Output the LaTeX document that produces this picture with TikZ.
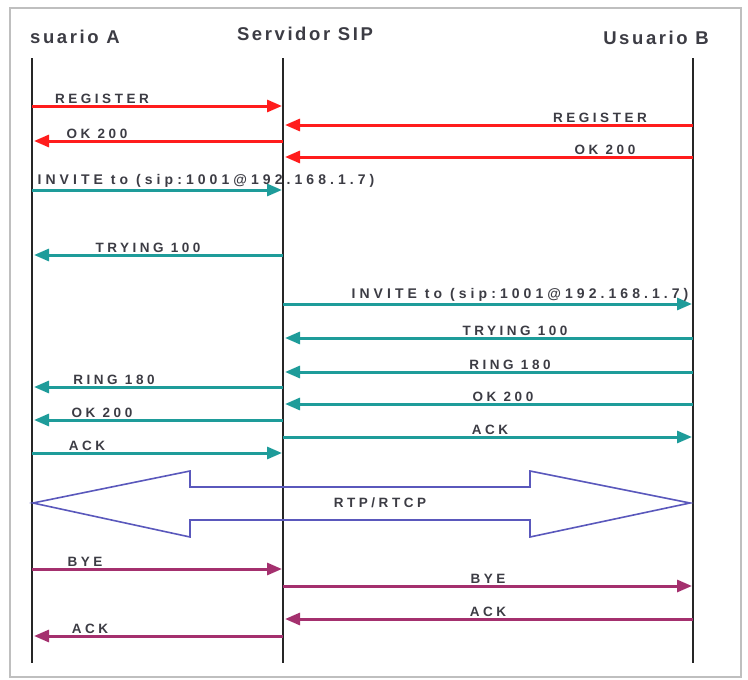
\documentclass[tikz,border=0pt]{standalone}
\usepackage{fontspec}
\setmainfont{Liberation Sans}
\usetikzlibrary{arrows.meta}
\definecolor{sipred}{HTML}{FF1C1C}
\definecolor{sipteal}{HTML}{1E9C9A}
\definecolor{sipblue}{HTML}{5A58BC}
\definecolor{sipmag}{HTML}{A4306E}
\definecolor{siptext}{HTML}{3C3C44}
\newfontfamily\lblfont[LetterSpace=26]{Liberation Sans Bold}
\newfontfamily\invfont[LetterSpace=29]{Liberation Sans Bold}
\newfontfamily\hdrfont[LetterSpace=14]{Liberation Sans Bold}
\begin{document}
\begin{tikzpicture}[x=1pt,y=-1pt,
  lifeline/.style={line width=2.6pt,black!85},
  msg/.style={line width=3pt,-{Triangle[length=15pt,width=12pt]}},
  lbl/.style={anchor=south,inner sep=0pt,text=siptext,font=\lblfont\fontsize{13.5}{15}\selectfont},
  hdr/.style={inner sep=0pt,text=siptext,font=\hdrfont\fontsize{18.5}{21}\selectfont},
  frame/.style={draw=black!25,line width=1.6pt},
  rtp/.style={draw=sipblue,line width=1.6pt,line join=miter}]
\useasboundingbox (0,0) rectangle (748,680);
\draw[frame] (10,8) rectangle (741,677);
% headers
\node[hdr,anchor=base west] (hA) at (30,43) {suario A};
\node[hdr,anchor=base] (hS) at (305,41) {Servidor SIP};
\node[hdr,anchor=base east] (hB) at (709,44) {Usuario B};
% lifelines
\coordinate (At) at (32,58); \coordinate (Ab) at (32,663);
\coordinate (St) at (283,58); \coordinate (Sb) at (283,663);
\coordinate (Bt) at (693,58); \coordinate (Bb) at (693,663);
\draw[lifeline] (At) -- (Ab);
\draw[lifeline] (St) -- (Sb);
\draw[lifeline] (Bt) -- (Bb);
% message macro: #1 from x, #2 to x, #3 y, #4 colour, #5 label centre x, #6 text, #7 name
\newcommand{\sipmsg}[7]{%
  \coordinate (#7s) at (#1,#3);
  \coordinate (#7e) at (#2,#3);
  \draw[msg,#4] (#7s) -- (#7e);
  \node[lbl] (#7l) at (#5,#3-2) {#6};
}
\newcommand{\invtext}{{\invfont\fontsize{14}{16}\selectfont INVITE to (sip:1001@192.168.1.7)}}
\sipmsg{32}{282}{106}{sipred}{102}{REGISTER}{m1}
\sipmsg{693}{285}{125}{sipred}{600}{REGISTER}{m2}
\sipmsg{283}{34}{141}{sipred}{97}{OK 200}{m3}
\sipmsg{693}{285}{157}{sipred}{605}{OK 200}{m4}
\sipmsg{32}{282}{190}{sipteal}{206}{\invtext}{m5}
\sipmsg{283}{34}{255}{sipteal}{148}{TRYING 100}{m6}
\sipmsg{283}{692}{304}{sipteal}{520}{\invtext}{m7}
\sipmsg{693}{285}{338}{sipteal}{515}{TRYING 100}{m8}
\sipmsg{693}{285}{372}{sipteal}{510}{RING 180}{m9}
\sipmsg{283}{34}{387}{sipteal}{114}{RING 180}{m10}
\sipmsg{693}{285}{404}{sipteal}{503}{OK 200}{m11}
\sipmsg{283}{34}{420}{sipteal}{102}{OK 200}{m12}
\sipmsg{283}{692}{437}{sipteal}{490}{ACK}{m13}
\sipmsg{32}{282}{453}{sipteal}{87}{ACK}{m14}
\sipmsg{32}{282}{569}{sipmag}{85}{BYE}{m16}
\sipmsg{283}{692}{586}{sipmag}{488}{BYE}{m17}
\sipmsg{693}{285}{619}{sipmag}{488}{ACK}{m18}
\sipmsg{283}{34}{636}{sipmag}{90}{ACK}{m19}
% RTP double arrow
\coordinate (rl) at (33,503);
\coordinate (rr) at (690,503);
\draw[rtp] (rl) -- (190,471) -- (190,487) -- (530,487) -- (530,471) -- (rr)
  -- (530,537) -- (530,520) -- (190,520) -- (190,537) -- cycle;
\node[lbl,anchor=center] (rtpl) at (380,503) {RTP/RTCP};
\end{tikzpicture}
\end{document}
